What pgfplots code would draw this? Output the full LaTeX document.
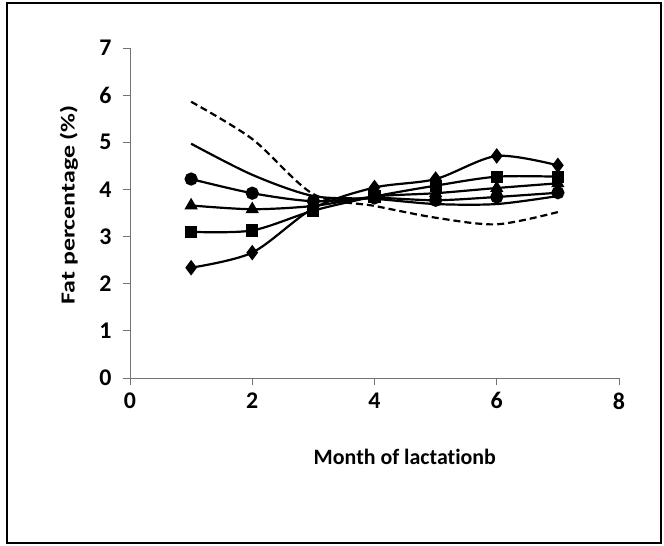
\documentclass[border=0pt]{standalone}
\usepackage{pgfplots}
\pgfplotsset{compat=1.18}
\usepackage{fontspec}
\setmainfont{Carlito}[Ligatures=NoCommon]
\newfontfamily\widefont{Carlito}[Ligatures=NoCommon, FakeStretch=1.3]

\begin{document}
\begin{tikzpicture}
\path[use as bounding box] (0bp,0bp) rectangle (664bp,546bp);
\draw[line width=2bp] (7bp,3bp) rectangle (661bp,543bp);
\begin{axis}[
  at={(130bp,168bp)}, anchor=south west,
  scale only axis, width=489bp, height=330bp,
  xmin=0, xmax=8, ymin=0, ymax=7,
  xtick={0,2,4,6,8}, ytick={0,1,2,3,4,5,6,7},
  axis lines=left,
  axis line style={-, color=black!55, line width=0.9bp},
  tick align=outside, major tick length=7bp,
  tick style={color=black!55, line width=0.9bp},
  font=\fontsize{22}{26}\selectfont\bfseries,
  tick label style={font=\fontsize{24}{28}\selectfont\bfseries},
  /pgf/number format/assume math mode=true,
  xticklabel style={yshift=-4bp},
  yticklabel style={xshift=-8bp},
  xlabel={Month of lactationb},
  ylabel={Fat percentage (\%)},
  xlabel style={at={(axis description cs:0.562,-0.24)}, anchor=center},
  ylabel style={at={(axis description cs:-0.125,0.525)}, anchor=center,
                font=\fontsize{20}{24}\selectfont\widefont\bfseries},
  clip=false,
  every axis plot/.append style={line width=2.2bp, black, smooth, tension=0.5},
]
% Dashed curve, no markers
\addplot[no marks, dash pattern=on 7bp off 4bp] coordinates {
  (1,5.86) (2,5.07) (3,3.90) (4,3.65) (5,3.40) (6,3.26) (7,3.52)};
% Solid curve, no markers
\addplot[no marks] coordinates {
  (1,4.97) (2,4.31) (3,3.86) (4,3.80) (5,3.69) (6,3.69) (7,3.86)};
% Circles
\addplot[mark=*, mark size=5.5bp] coordinates {
  (1,4.22) (2,3.92) (3,3.75) (4,3.82) (5,3.77) (6,3.84) (7,3.93)};
% Triangles
\addplot[mark=triangle*, mark size=5.5bp] coordinates {
  (1,3.66) (2,3.58) (3,3.65) (4,3.85) (5,3.92) (6,4.03) (7,4.13)};
% Squares
\addplot[mark=square*, mark size=5bp] coordinates {
  (1,3.10) (2,3.13) (3,3.55) (4,3.85) (5,4.08) (6,4.27) (7,4.27)};
% Diamonds
\addplot[mark=diamond*, mark size=6bp] coordinates {
  (1,2.34) (2,2.66) (3,3.60) (4,4.04) (5,4.22) (6,4.71) (7,4.51)};
\end{axis}
\end{tikzpicture}
\end{document}
